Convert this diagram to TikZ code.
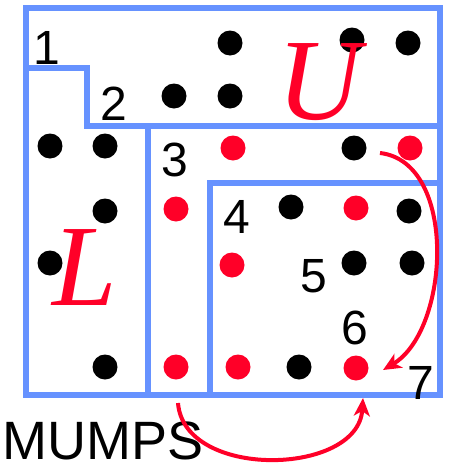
\documentclass[tikz,border=0pt]{standalone}
\usepackage{fontspec}
\setmainfont{Liberation Sans}
\newfontfamily\serifit{Liberation Serif}
\usetikzlibrary{arrows.meta}
\definecolor{gridblue}{RGB}{102,146,255}
\definecolor{mred}{RGB}{255,0,40}
\tikzset{
  border/.style={draw=gridblue,line width=5.2pt,line join=miter},
  bdot/.style={circle,fill=black,minimum size=25pt,inner sep=0pt},
  rdot/.style={circle,fill=mred,minimum size=25pt,inner sep=0pt},
  num/.style={inner sep=0pt,font=\fontsize{48}{48}\selectfont},
  big/.style={inner sep=0pt,text=mred,font=\serifit\itshape\fontsize{116}{116}\selectfont},
  rarrow/.style={draw=mred,line width=4pt,-{Stealth[length=18pt,width=16pt,inset=5pt]}}
}
\begin{document}
\begin{tikzpicture}[x=1pt,y=-1pt]
\useasboundingbox (0,0) rectangle (449,469);
% frame and block boundaries
\draw[border] (26,8) rectangle (440,395);
\draw[border] (26,68) -- (87,68) -- (87,126) -- (440,126);
\draw[border] (148,126) -- (148,395);
\draw[border] (210,395) -- (210,183) -- (440,183);
% black dots
\foreach \n/\x/\y in {b1/230/43, b2/352/40, b3/408/43, b4/174/96, b5/230/96,
  b6/50/146, b7/105/146, b8/354/148, b9/105/211, b10/291/207, b11/409/211,
  b12/50/263, b13/354/263, b14/412/263, b15/105/367, b16/299/367}
  \node[bdot] (\n) at (\x,\y) {};
% red dots
\foreach \n/\x/\y in {r1/233/148, r2/410/148, r3/176/209, r4/356/208,
  r5/232/265, r6/176/367, r7/238/367, r8/356/368}
  \node[rdot] (\n) at (\x,\y) {};
% labels
\node[num] (n1) at (47,48) {1};
\node[num] (n2) at (114,104) {2};
\node[num] (n3) at (175,160) {3};
\node[num] (n4) at (237,217) {4};
\node[num] (n5) at (314,276) {5};
\node[num] (n6) at (355,328) {6};
\node[num] (n7) at (421,383) {7};
\node[big] (U) at (319,82) {U};
\node[big] (L) at (85,268) {L};
\node[anchor=north west,inner sep=0pt,font=\fontsize{54}{54}\selectfont] (mumps) at (2,422) {MUMPS};
% arrows
\coordinate (a1s) at (380,153);
\coordinate (a1e) at (383,370);
\coordinate (a2s) at (178,403);
\coordinate (a2e) at (363,398);
\draw[rarrow] (a1s) .. controls (458,162) and (450,330) .. (a1e);
\draw[rarrow] (a2s) .. controls (184,480) and (358,476) .. (a2e);
\end{tikzpicture}
\end{document}
